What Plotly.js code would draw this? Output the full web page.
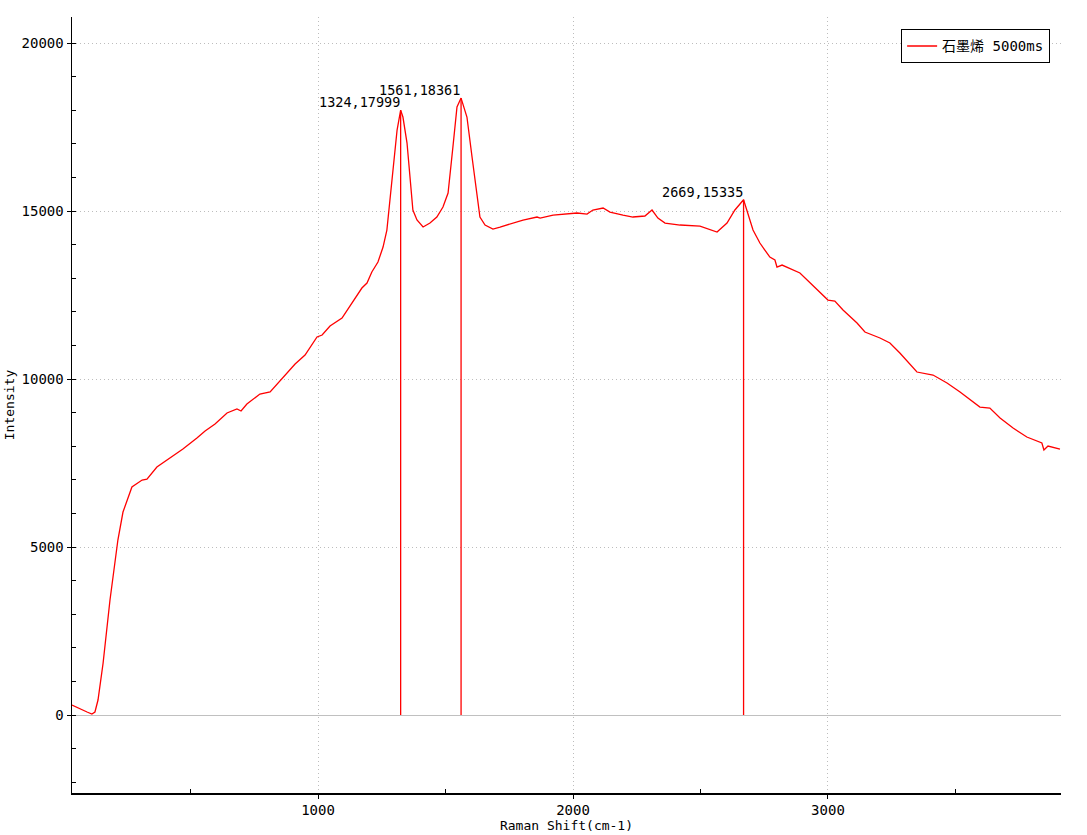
<!DOCTYPE html>
<html>
<head>
<meta charset="utf-8">
<script src="https://cdn.plot.ly/plotly-3.0.1.min.js"></script>
<style>html,body{margin:0;padding:0;background:#fff;}#chart{width:1087px;height:835px;}</style>
</head>
<body>
<div id="chart"></div>
<script>
const seriesName = "石墨烯 5000ms";
const ramanShift = [35, 66, 94, 113, 125, 137, 157, 184, 204, 215, 235, 270, 310, 329, 368, 419, 470, 525, 557, 596, 643, 682, 698, 721, 772, 812, 839, 870, 910, 949, 996, 1016, 1047, 1094, 1133, 1172, 1192, 1211, 1235, 1255, 1270, 1294, 1310, 1324, 1333, 1349, 1361, 1372, 1388, 1412, 1439, 1466, 1490, 1510, 1529, 1545, 1561, 1584, 1604, 1623, 1635, 1655, 1686, 1714, 1741, 1804, 1859, 1871, 1922, 1976, 2016, 2055, 2078, 2118, 2145, 2196, 2235, 2282, 2310, 2333, 2361, 2420, 2498, 2565, 2604, 2635, 2669, 2706, 2733, 2772, 2792, 2800, 2820, 2890, 2918, 2969, 3000, 3027, 3059, 3114, 3145, 3204, 3243, 3282, 3349, 3412, 3467, 3518, 3596, 3635, 3675, 3726, 3780, 3839, 3847, 3863, 3910];
const intensity = [298, 178, 89, 30, 89, 446, 1548, 3422, 4523, 5208, 6041, 6786, 6994, 7023, 7380, 7648, 7916, 8244, 8452, 8660, 8988, 9107, 9047, 9256, 9553, 9613, 9851, 10118, 10446, 10714, 11250, 11309, 11577, 11815, 12261, 12708, 12857, 13184, 13481, 13928, 14434, 16129, 17410, 17999, 17797, 17023, 16011, 15030, 14732, 14523, 14642, 14821, 15119, 15535, 16904, 18095, 18361, 17797, 16607, 15416, 14821, 14583, 14464, 14523, 14583, 14732, 14821, 14791, 14880, 14910, 14940, 14910, 15030, 15089, 14970, 14880, 14821, 14851, 15030, 14791, 14642, 14583, 14553, 14375, 14642, 15030, 15335, 14434, 14047, 13630, 13541, 13333, 13392, 13154, 12946, 12559, 12351, 12321, 12053, 11666, 11398, 11220, 11071, 10773, 10208, 10118, 9881, 9613, 9166, 9136, 8839, 8541, 8273, 8095, 7886, 8005, 7916];
const peakX = [1324, 1561, 2669];
const peakY = [17999, 18361, 15335];
const xTicks = [1000, 2000, 3000];
const yTicks = [0, 5000, 10000, 15000, 20000];

const FONT = "DejaVu Sans Mono, Noto Sans CJK SC, monospace";

const stemX = [], stemY = [];
peakX.forEach((px, i) => { stemX.push(px, px, null); stemY.push(0, peakY[i], null); });

const traces = [
  {x: ramanShift, y: intensity, type: 'scatter', mode: 'lines', name: seriesName,
   line: {color: '#ff0000', width: 1.3}},
  {x: stemX, y: stemY, type: 'scatter', mode: 'lines', showlegend: false, hoverinfo: 'skip',
   line: {color: '#ff0000', width: 1.3}}
];

const annotations = peakX.map((px, i) => ({
  x: px, y: peakY[i], xref: 'x', yref: 'y', text: px + ',' + peakY[i],
  showarrow: false, xanchor: 'right', yanchor: 'bottom', yshift: -2, xshift: 1,
  font: {family: FONT, size: 13.5, color: '#000'}
}));

const layout = {
  width: 1087, height: 835,
  margin: {l: 72, r: 26, t: 17, b: 42},
  paper_bgcolor: '#fff', plot_bgcolor: '#fff',
  font: {family: FONT, size: 13, color: '#000'},
  showlegend: true,
  legend: {x: 0.989, y: 0.984, xanchor: 'right', yanchor: 'top', bgcolor: '#fff',
           bordercolor: '#000', borderwidth: 1, font: {family: FONT, size: 14, color: '#000'},
           itemwidth: 30, tracegroupgap: 0},
  xaxis: {
    range: [35, 3914], tickvals: xTicks, ticktext: xTicks.map(String),
    tickfont: {family: FONT, size: 14},
    showline: true, linecolor: '#000', linewidth: 1.5, mirror: false,
    ticks: 'outside', ticklen: 4, tickcolor: '#000',
    showgrid: true, gridcolor: '#bdbdbd', griddash: '1px,3px', gridwidth: 1,
    zeroline: false,
    minor: {tickvals: [500, 1500, 2500, 3500], ticks: 'inside', ticklen: 4, tickcolor: '#000', showgrid: false},
    title: {text: 'Raman Shift(cm-1)', standoff: 0, font: {family: FONT, size: 13}}
  },
  yaxis: {
    range: [-2321, 20774], tickvals: yTicks, ticktext: yTicks.map(String),
    tickfont: {family: FONT, size: 14},
    showline: true, linecolor: '#000', linewidth: 1.5,
    ticks: 'outside', ticklen: 4, tickcolor: '#000',
    showgrid: true, gridcolor: '#bdbdbd', griddash: '1px,3px', gridwidth: 1,
    zeroline: true, zerolinecolor: '#c0c0c0', zerolinewidth: 1,
    minor: {dtick: 1000, ticks: 'inside', ticklen: 4, tickcolor: '#000', showgrid: false},
    title: {text: 'Intensity', standoff: 4, font: {family: FONT, size: 13}}
  },
  annotations: annotations
};

Plotly.newPlot('chart', traces, layout, {displayModeBar: false, staticPlot: true});
</script>
</body>
</html>
